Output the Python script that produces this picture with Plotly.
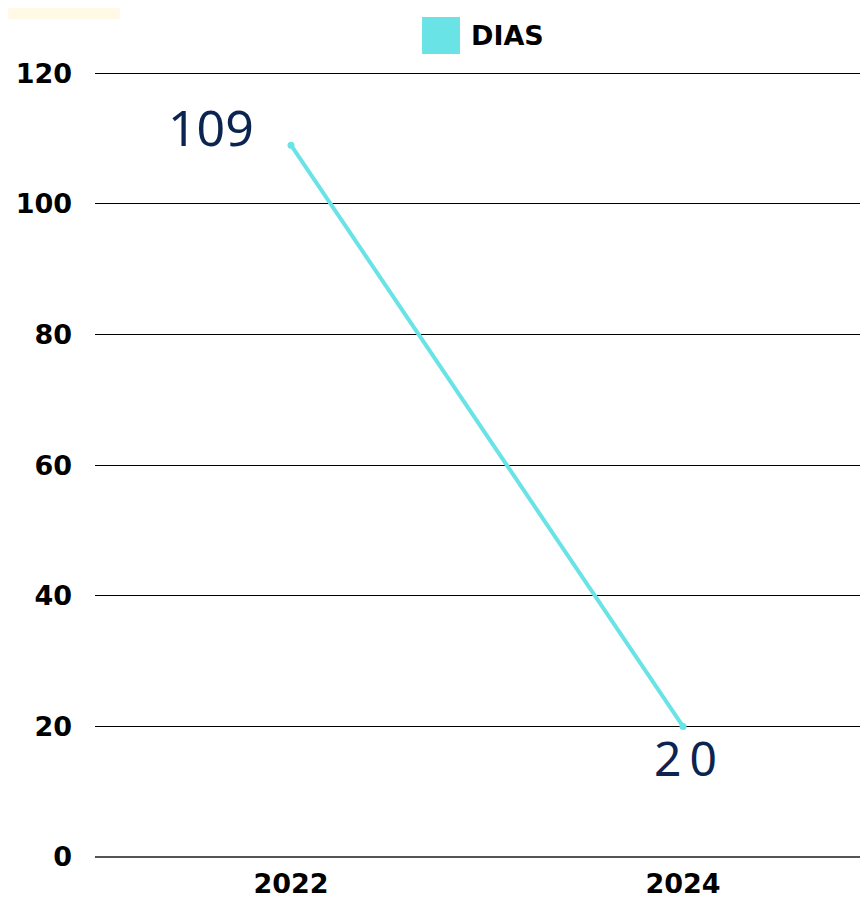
import plotly.graph_objects as go

# dados
anos = ["2022", "2024"]
dias = [109, 20]
rotulos = ["109", "2\u20090"]
y_ticks = [0, 20, 40, 60, 80, 100, 120]

cor_linha = "#6ae3e6"
cor_rotulo = "#0b2550"

fig = go.Figure()

fig.add_trace(go.Scatter(
    x=anos, y=dias, mode="lines+markers", name="DIAS",
    line=dict(color=cor_linha, width=4),
    marker=dict(color=cor_linha, size=7),
    showlegend=False,
))

# rotulos dos pontos (deslocamentos em pixels); x = indice da categoria
deslocamentos = [(-80, 18), (2, -31)]
tamanhos = [50, 48]
for i, (valor, txt, (dx, dy), tam) in enumerate(zip(dias, rotulos, deslocamentos, tamanhos)):
    fig.add_annotation(
        x=i, y=valor, text=txt, showarrow=False,
        xshift=dx, yshift=dy,
        font=dict(family="Noto Sans", size=tam, color=cor_rotulo),
    )

# legenda manual
fig.add_shape(type="rect", xref="paper", yref="paper",
              x0=0.4275, x1=0.4771, y0=1.0229, y1=1.0701,
              fillcolor=cor_linha, line=dict(width=0))
fig.add_annotation(xref="paper", yref="paper", x=0.489, y=1.0465,
                   xanchor="left", yanchor="middle", showarrow=False,
                   text="<b>DIAS</b>",
                   font=dict(family="DejaVu Sans", size=27, color="black"))

# retangulo amarelo cortado no canto
fig.add_shape(type="rect", xref="paper", yref="paper",
              x0=-0.13, x1=0.0327, y0=1.0675, y1=1.2,
              fillcolor="#fff9e6", line=dict(width=0))

# a pagina tem margem de 8px
fig.update_layout(
    width=852, height=890,
    margin=dict(l=87, r=0, t=64, b=41),
    paper_bgcolor="white", plot_bgcolor="white",
    font=dict(family="DejaVu Sans", color="black"),
)
fig.update_xaxes(
    type="category", range=[-0.5, 1.4515], automargin=False,
    showgrid=False, showline=False, ticks="", ticklabelstandoff=8,
    tickfont=dict(family="DejaVu Sans", size=27, color="black", weight="bold"),
)
fig.update_yaxes(
    range=[0, 120.2], tickvals=y_ticks, automargin=False,
    showgrid=True, gridcolor="black", gridwidth=1,
    zeroline=True, zerolinecolor="#555555", zerolinewidth=1.5,
    showline=False, ticks="", ticklabelstandoff=22,
    tickfont=dict(family="DejaVu Sans", size=27, color="black", weight="bold"),
)

fig.write_html("out.html")
